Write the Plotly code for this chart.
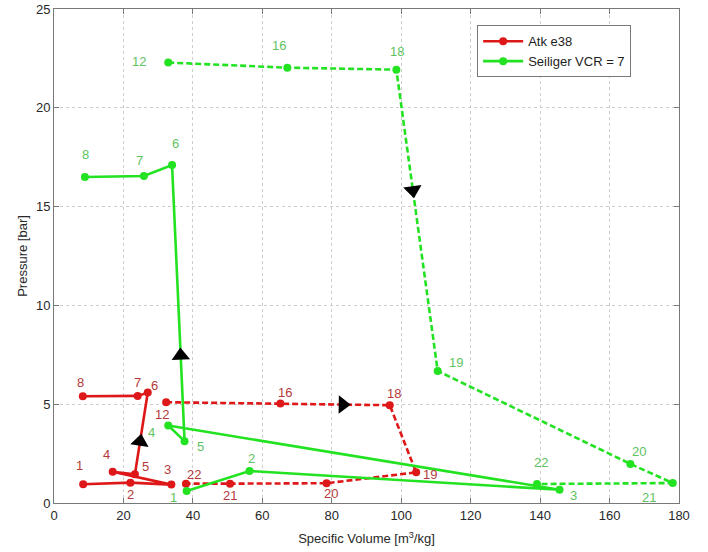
import plotly.graph_objects as go

# ---------------- data ----------------
# Atk e38 (red)
atk_solid_lbl = ["1", "2", "3", "4", "5", "6", "7", "8"]
atk_solid_v = [8.4, 22.0, 33.8, 16.9, 23.3, 27.0, 24.1, 8.3]
atk_solid_p = [0.95, 1.03, 0.93, 1.58, 1.45, 5.59, 5.42, 5.40]

atk_dash_lbl = ["12", "16", "18", "19", "20", "21", "22"]
atk_dash_v = [32.3, 65.2, 96.7, 104.3, 78.5, 50.7, 38.0]
atk_dash_p = [5.10, 5.03, 4.95, 1.55, 1.00, 0.98, 0.98]

# Seiliger VCR = 7 (green)
sei_solid_lbl = ["1", "2", "3", "4", "5", "6", "7", "8"]
sei_solid_v = [38.2, 56.3, 145.6, 32.9, 37.6, 34.0, 25.9, 8.9]
sei_solid_p = [0.61, 1.62, 0.67, 3.92, 3.13, 17.1, 16.55, 16.5]

sei_dash_lbl = ["12", "16", "18", "19", "20", "21", "22"]
sei_dash_v = [32.9, 67.2, 98.6, 110.5, 166.0, 178.2, 139.1]
sei_dash_p = [22.29, 22.03, 21.93, 6.68, 1.98, 1.01, 0.96]

x_ticks = [0, 20, 40, 60, 80, 100, 120, 140, 160, 180]
y_ticks = [0, 5, 10, 15, 20, 25]

# ---------------- styles ----------------
RED = "rgb(222,24,24)"
GREEN = "rgb(34,226,34)"
RED_TXT = "rgb(180,58,58)"
GREEN_TXT = "rgb(95,195,95)"
FONT = "Liberation Sans, Arial, sans-serif"

# label offsets in px (xshift, yshift)
atk_solid_off = [(-4, 19), (0, -12), (-4, 15), (-6, 17), (11, 8), (7, 7), (0, 13), (-2, 14)]
atk_dash_off = [(-4, -12), (5, 11), (4, 12), (14, -2), (4, -10), (0, -12), (8, 9)]
sei_solid_off = [(-13, -7), (2, 12), (14, -6), (-17, -7), (16, -5), (3, 22), (-4, 15), (1, 22)]
sei_dash_off = [(-29, 1), (-8, 22), (1, 18), (18, 9), (9, 12), (-24, -14), (4, 22)]

fig = go.Figure()


def add_series(v, p, color, dash, name, showlegend):
    fig.add_trace(go.Scatter(
        x=v, y=p, mode="lines+markers", name=name, legendgroup=name,
        showlegend=showlegend,
        line=dict(color=color, width=2.6, dash=dash),
        marker=dict(color=color, size=8),
    ))


add_series(atk_solid_v, atk_solid_p, RED, "solid", "Atk e38", True)
add_series(atk_dash_v, atk_dash_p, RED, "6px,3px", "Atk e38", False)
add_series(sei_solid_v, sei_solid_p, GREEN, "solid", "Seiliger VCR = 7", True)
add_series(sei_dash_v, sei_dash_p, GREEN, "6px,3px", "Seiliger VCR = 7", False)


def add_arrow(v, p, i, frac):
    x0, y0 = v[i], p[i]
    x1, y1 = v[i + 1], p[i + 1]
    xt = x0 + (x1 - x0) * frac
    yt = y0 + (y1 - y0) * frac
    fig.add_trace(go.Scatter(
        x=[x0, xt], y=[y0, yt], mode="markers", showlegend=False, hoverinfo="skip",
        marker=dict(symbol="triangle-up", angleref="previous", size=[0, 16],
                    color="black", opacity=1, line=dict(width=0)),
    ))


add_arrow(atk_solid_v, atk_solid_p, 4, 0.40)   # 5 -> 6 red
add_arrow(atk_dash_v, atk_dash_p, 1, 0.57)     # 16 -> 18 red
add_arrow(sei_solid_v, sei_solid_p, 4, 0.31)   # 5 -> 6 green
add_arrow(sei_dash_v, sei_dash_p, 2, 0.40)     # 18 -> 19 green


def add_labels(v, p, lbls, offs, color):
    for x, y, t, (dx, dy) in zip(v, p, lbls, offs):
        fig.add_annotation(x=x, y=y, text=t, showarrow=False, xshift=dx, yshift=dy,
                           font=dict(color=color, size=13, family=FONT))


add_labels(atk_solid_v, atk_solid_p, atk_solid_lbl, atk_solid_off, RED_TXT)
add_labels(atk_dash_v, atk_dash_p, atk_dash_lbl, atk_dash_off, RED_TXT)
add_labels(sei_solid_v, sei_solid_p, sei_solid_lbl, sei_solid_off, GREEN_TXT)
add_labels(sei_dash_v, sei_dash_p, sei_dash_lbl, sei_dash_off, GREEN_TXT)

axis_common = dict(
    showline=True, linecolor="rgb(120,120,120)", linewidth=1, mirror="ticks",
    ticks="inside", ticklen=5, tickcolor="rgb(120,120,120)",
    showgrid=True, gridcolor="rgb(205,205,205)", griddash="dot", gridwidth=1,
    zeroline=False, automargin=False,
    tickfont=dict(size=13, color="rgb(40,40,40)", family=FONT),
)

fig.update_xaxes(range=[0, 180], tickvals=x_ticks,
                 title=dict(text="Specific Volume [m<sup>3</sup>/kg]", standoff=12,
                            font=dict(size=13, color="rgb(40,40,40)", family=FONT)),
                 **axis_common)
fig.update_yaxes(range=[0, 25], tickvals=y_ticks,
                 title=dict(text="Pressure [bar]", standoff=5,
                            font=dict(size=13, color="rgb(40,40,40)", family=FONT)),
                 **axis_common)

fig.update_layout(
    width=708, height=552,
    margin=dict(l=54, r=29, t=9, b=49, autoexpand=False),
    paper_bgcolor="white", plot_bgcolor="white",
    font=dict(family=FONT, size=13, color="rgb(40,40,40)"),
    legend=dict(x=0.677, y=0.967, xanchor="left", yanchor="top",
                bgcolor="white", bordercolor="rgb(120,120,120)", borderwidth=1,
                font=dict(size=13, family=FONT, color="rgb(30,30,30)"),
                tracegroupgap=0, itemwidth=40),
    showlegend=True,
)

fig.write_html("out.html", config={"displayModeBar": False},
               post_script="document.body.style.margin='0px';document.body.style.overflow='hidden';")
